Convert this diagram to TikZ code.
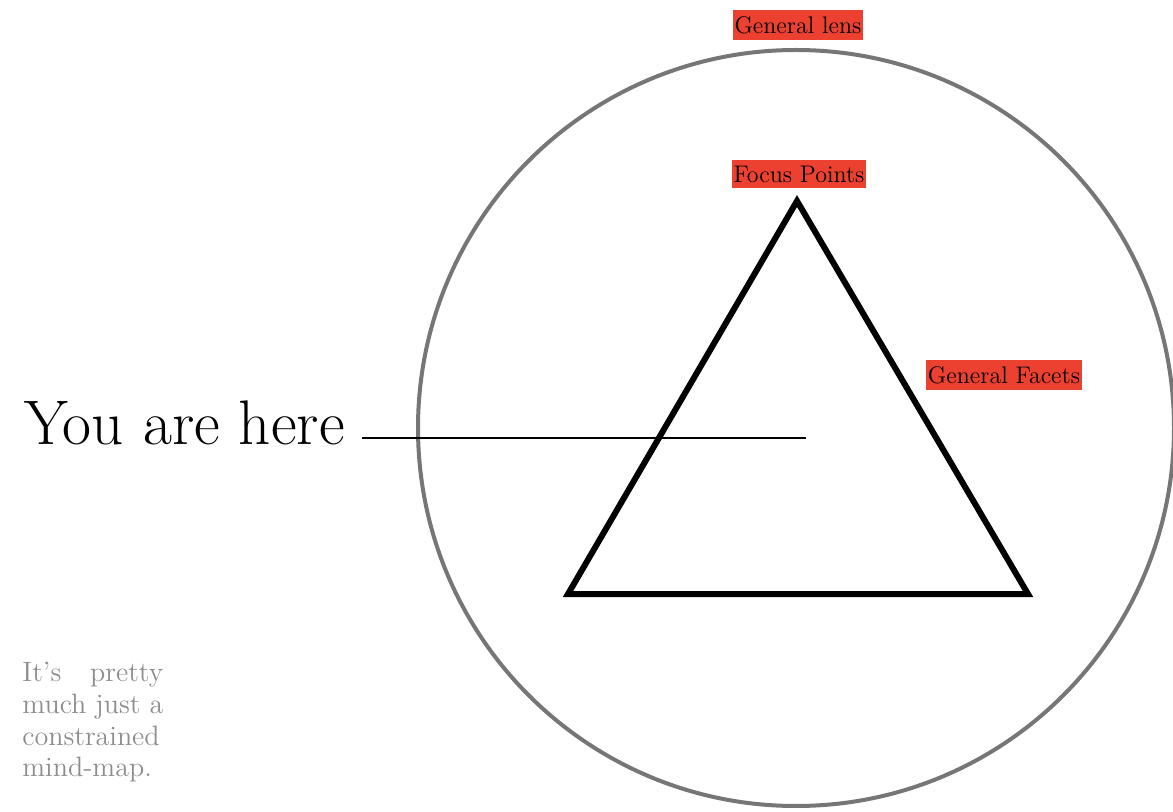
\documentclass[tikz,border=0pt]{standalone}
\usepackage[dvipsnames]{xcolor}
\usetikzlibrary{positioning,calc}
\definecolor{tagred}{RGB}{236,64,48}
\definecolor{lensgrey}{RGB}{118,118,118}
\definecolor{notegrey}{RGB}{140,140,140}
\tikzset{
  tag/.style={
    inner xsep = 1pt,
    inner ysep = 3pt,
    shape = rectangle,
    fill = tagred,
    font = \fontsize{12}{14}\selectfont
  },
  ring/.style={
    draw = lensgrey,
    line width = 2pt
  },
  facet/.style={
    line width = 3pt,
    line join = miter
  },
  pointer/.style={
    line width = 0.7pt
  },
  note/.style={
    inner sep = 0pt,
    text width = 70.5pt,
    align = justify,
    text = notegrey,
    font = \fontsize{14}{15.85}\selectfont
  }
}

\begin{document}
\begin{tikzpicture}[x=0.5pt,y=-0.5pt]
  \useasboundingbox (0,0) rectangle (1173,812);

  % the lens and the triangle
  \coordinate (centre) at (796,428);
  \draw[ring] (centre) circle (189pt);

  \coordinate (apex) at (797,201);
  \coordinate (base l) at (568,594);
  \coordinate (base r) at (1028,594);
  \draw[facet] (apex) -- (base l) -- (base r) -- cycle;

  \node[tag] (lens) at (798,25) {General lens};
  \node[tag] (focus) at (799,174) {Focus Points};
  \node[tag] (facets) at (1004,375) {General Facets};

  % pointer
  \coordinate (herept) at (806,438);
  \node[anchor=base east, inner sep=0pt, font=\fontsize{31.5}{36}\selectfont] (here) at (345,445) {You are here};
  \draw[pointer, shorten <=8.5pt] (here.east |- herept) -- (herept);

  \node[note, anchor=north west] (note) at (22,662) {It's pretty much just a constrained mind-map.};
\end{tikzpicture}
\end{document}
